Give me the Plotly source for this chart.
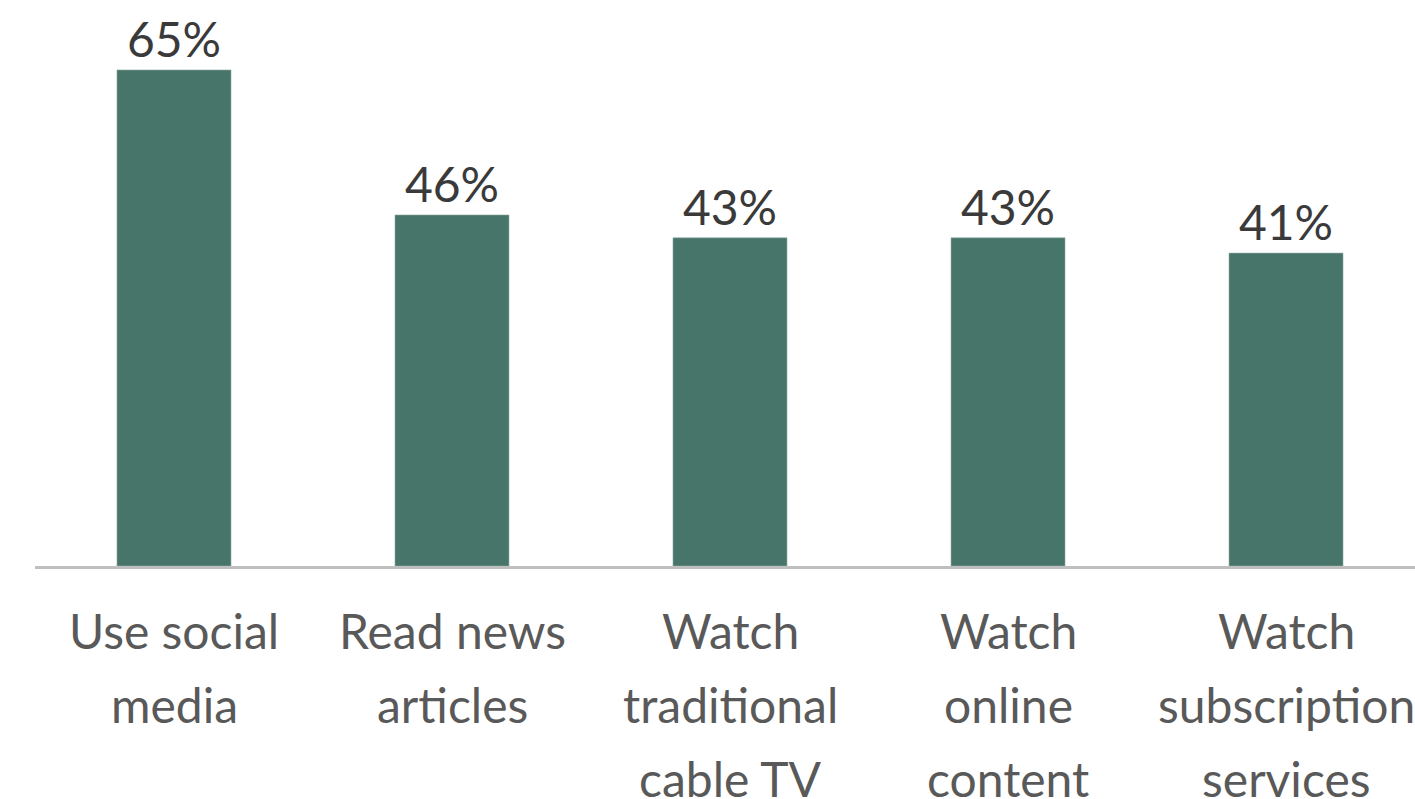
import plotly.graph_objects as go

# Survey results: share of respondents per activity
categories = [
    "Use social\nmedia",
    "Read news\narticles",
    "Watch\ntraditional\ncable TV",
    "Watch\nonline\ncontent",
    "Watch\nsubscription\nservices",
]
values = [65, 46, 43, 43, 41]
value_labels = [f"{v}%" for v in values]

BAR_COLOR = "#47756A"
FONT = "Lato"

x_pos = list(range(len(categories)))

fig = go.Figure(
    go.Bar(
        x=x_pos,
        y=values,
        width=0.41,
        marker=dict(color=BAR_COLOR, line=dict(color="#8FAAA3", width=0.6)),
        text=value_labels,
        textposition="outside",
        textfont=dict(family=FONT, size=48, color="#3A3A3A"),
        cliponaxis=False,
    )
)

# Multi-line category labels, one annotation per line for wider line spacing
annotations = []
for i, cat in enumerate(categories):
    for j, line in enumerate(cat.split("\n")):
        annotations.append(
            dict(
                x=i,
                xref="x",
                y=0,
                yref="paper",
                yanchor="middle",
                xanchor="center",
                yshift=-64 - 74 * j,
                text=line,
                showarrow=False,
                font=dict(family=FONT, size=48, color="#595959"),
            )
        )

fig.update_layout(
    width=1415,
    height=799,
    margin=dict(l=35, r=0, t=0, b=233),
    paper_bgcolor="white",
    plot_bgcolor="white",
    showlegend=False,
    annotations=annotations,
    xaxis=dict(
        range=[-0.5, 4.464],
        showticklabels=False,
        showgrid=False,
        zeroline=False,
        showline=True,
        linecolor="#BFBFBF",
        linewidth=2.5,
        ticks="",
        fixedrange=True,
    ),
    yaxis=dict(
        range=[0, 74.17],
        visible=False,
        fixedrange=True,
    ),
)

fig.write_html("out.html")
